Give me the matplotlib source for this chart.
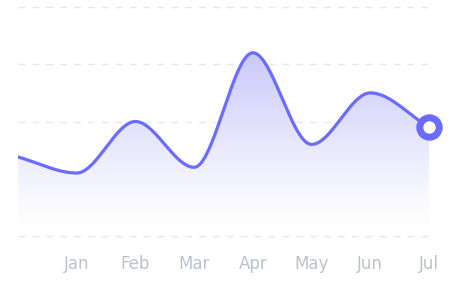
import matplotlib.pyplot as plt
import numpy as np
from matplotlib.colors import LinearSegmentedColormap

# data
labels = ["", "Jan", "Feb", "Mar", "Apr", "May", "Jun", "Jul"]
values = [34.5, 27.5, 50, 30, 80, 40, 62.5, 47.5]

line_color = "#6b6bff"


def monotone(x, y, n=40):
    # Fritsch-Carlson monotone cubic interpolation
    x = np.asarray(x, float)
    y = np.asarray(y, float)
    h = np.diff(x)
    d = np.diff(y) / h
    m = np.zeros_like(y)
    m[0], m[-1] = d[0], d[-1]
    for i in range(1, len(y) - 1):
        if d[i - 1] * d[i] <= 0:
            m[i] = 0
        else:
            m[i] = (d[i - 1] + d[i]) / 2
    for i in range(len(d)):
        if d[i] == 0:
            m[i] = m[i + 1] = 0
            continue
        a, b = m[i] / d[i], m[i + 1] / d[i]
        s = a * a + b * b
        if s > 9:
            t = 3 / np.sqrt(s)
            m[i] = t * a * d[i]
            m[i + 1] = t * b * d[i]
    xs, ys = [], []
    for i in range(len(d)):
        t = np.linspace(0, 1, n, endpoint=(i == len(d) - 1))
        h00 = 2 * t**3 - 3 * t**2 + 1
        h10 = t**3 - 2 * t**2 + t
        h01 = -2 * t**3 + 3 * t**2
        h11 = t**3 - t**2
        xs.append(x[i] + t * h[i])
        ys.append(h00 * y[i] + h10 * h[i] * m[i] + h01 * y[i + 1] + h11 * h[i] * m[i + 1])
    return np.concatenate(xs), np.concatenate(ys)


x = np.arange(len(values))
sx, sy = monotone(x, values)

fig = plt.figure(figsize=(4.66, 2.94), dpi=100)
ax = fig.add_axes([18 / 466, 1 - 236 / 294, 411 / 466, 229 / 294])
ax.set_xlim(0, len(values) - 1)
ax.set_ylim(0, 100)

for yv in [0, 25, 50, 75, 100]:
    ax.axhline(yv, color="#e6e8ee", lw=1, ls=(0, (5, 5)), zorder=0, clip_on=False)

# gradient fill under the curve
cmap = LinearSegmentedColormap.from_list("g", ["#ffffff", "#c4c4fb"])
grad = np.linspace(0, 1, 256).reshape(-1, 1)
poly = ax.fill_between(sx, sy, 0, color="none")
img = ax.imshow(grad ** 1.2, extent=[0, len(values) - 1, 2, 85], origin="lower",
                aspect="auto", cmap=cmap, vmin=0, vmax=1, zorder=1)
img.set_clip_path(poly.get_paths()[0], transform=ax.transData)
ax.set_xlim(0, len(values) - 1)
ax.set_ylim(0, 100)

ax.plot(sx, sy, color=line_color, lw=2.3, zorder=3, solid_capstyle="round")
ax.plot(x[-1], values[-1], "o", ms=14, mfc="white", mec=line_color, mew=5,
        zorder=4, clip_on=False)

ax.set_xticks(x)
ax.set_xticklabels(labels, color="#bcc1cc", fontsize=12)
ax.tick_params(length=0, pad=14)
ax.set_yticks([])
for s in ax.spines.values():
    s.set_visible(False)

fig.savefig("out.png", dpi=100)
